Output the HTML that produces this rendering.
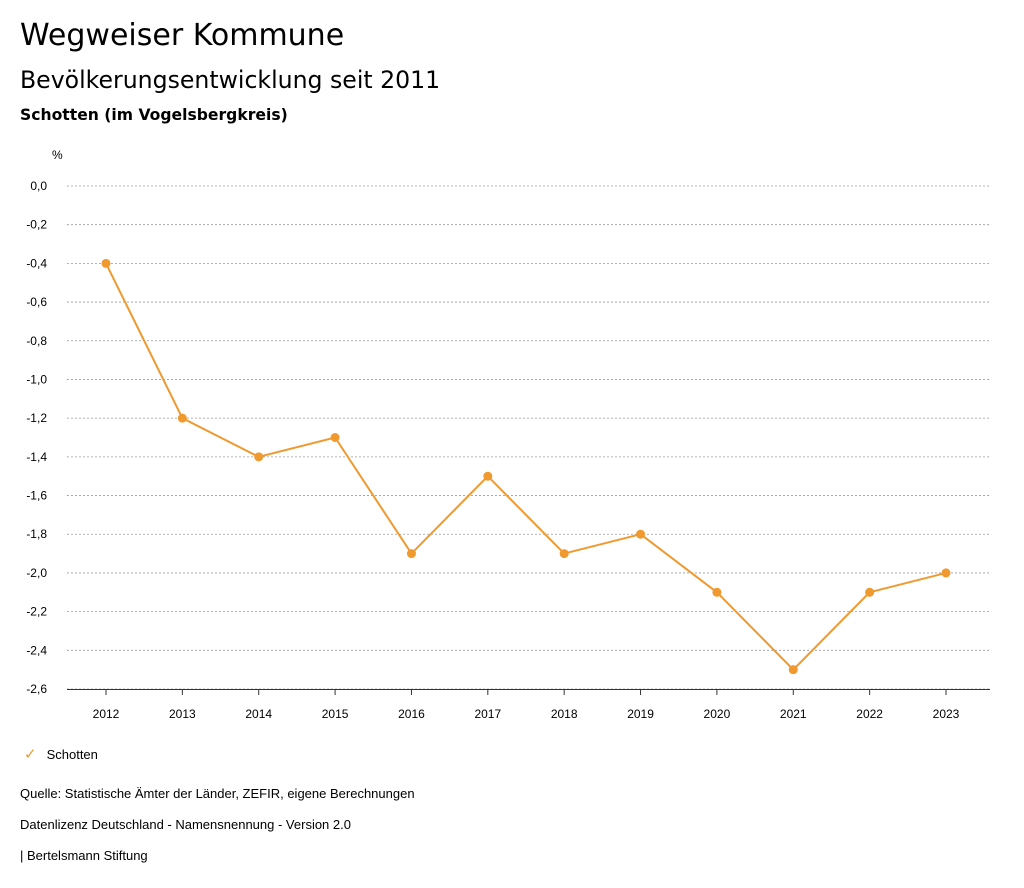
<!DOCTYPE html>
<html><head><meta charset="utf-8">
<style>
body{margin:0;background:#fff;font-family:"Liberation Sans","DejaVu Sans",sans-serif;color:#000;}
.wrap{position:relative;width:1024px;height:888px;overflow:hidden;}
.t{position:absolute;left:20px;white-space:nowrap;}
.d{font-family:"DejaVu Sans",sans-serif;}
</style></head><body>
<div class="wrap">
<div class="t d" style="top:18px;font-size:30px;">Wegweiser Kommune</div>
<div class="t d" style="top:66px;font-size:23.6px;">Bevölkerungsentwicklung seit 2011</div>
<div class="t d" style="top:106px;font-size:15.6px;font-weight:bold;">Schotten (im Vogelsbergkreis)</div>
<svg id="chart" width="1024" height="888" style="position:absolute;left:0;top:0">
<text x="52" y="159" font-size="12" font-family="Liberation Sans, sans-serif">%</text>
</svg>
<div class="t" style="top:745px;left:24px;font-size:13px;"><span style="color:#f0992f;font-size:15px;">✓</span><span style="margin-left:10px;">Schotten</span></div>
<div class="t" style="top:786px;font-size:13px;">Quelle: Statistische Ämter der Länder, ZEFIR, eigene Berechnungen</div>
<div class="t" style="top:817px;font-size:13px;">Datenlizenz Deutschland - Namensnennung - Version 2.0</div>
<div class="t" style="top:848px;font-size:13px;">| Bertelsmann Stiftung</div>
</div>
<script>
const years=["2012","2013","2014","2015","2016","2017","2018","2019","2020","2021","2022","2023"];
const values=[-0.4,-1.2,-1.4,-1.3,-1.9,-1.5,-1.9,-1.8,-2.1,-2.5,-2.1,-2.0];
const yTicks=[0,-0.2,-0.4,-0.6,-0.8,-1.0,-1.2,-1.4,-1.6,-1.8,-2.0,-2.2,-2.4,-2.6];
const svg=document.getElementById('chart');
const NS='http://www.w3.org/2000/svg';
const y=v=>186+(0-v)/2.6*503;
const x=i=>106+i*(840/11);
function mk(t,a){const e=document.createElementNS(NS,t);for(const k in a)e.setAttribute(k,a[k]);svg.appendChild(e);return e;}
yTicks.forEach(v=>{
  const l=mk('line',{x1:67,x2:990,y1:y(v),y2:y(v),stroke:'#999','stroke-dasharray':'2,2','stroke-width':0.8});
  
  
  const t=mk('text',{x:47,y:y(v)+4,'font-size':12,'text-anchor':'end','font-family':'Liberation Sans, sans-serif'});
  t.textContent=v.toFixed(1).replace('.',',').replace('-0,0','0,0');
  
  
});
const ax=mk('line',{x1:67,x2:990,y1:689.5,y2:689.5,stroke:'#333','stroke-width':1});


years.forEach((yr,i)=>{
  const tk=mk('line',{x1:x(i),x2:x(i),y1:689,y2:695,stroke:'#333'});
  
  
  const t=mk('text',{x:x(i),y:718,'font-size':12,'text-anchor':'middle','font-family':'Liberation Sans, sans-serif'});
  t.textContent=yr;
  
  
});
const pl=mk('polyline',{points:values.map((v,i)=>x(i)+','+y(v)).join(' '),fill:'none',stroke:'#f0992f','stroke-width':2});


values.forEach((v,i)=>{
  const c=mk('circle',{cx:x(i),cy:y(v),r:4.5,fill:'#f0992f'});
  
  
});
</script>
</body></html>
